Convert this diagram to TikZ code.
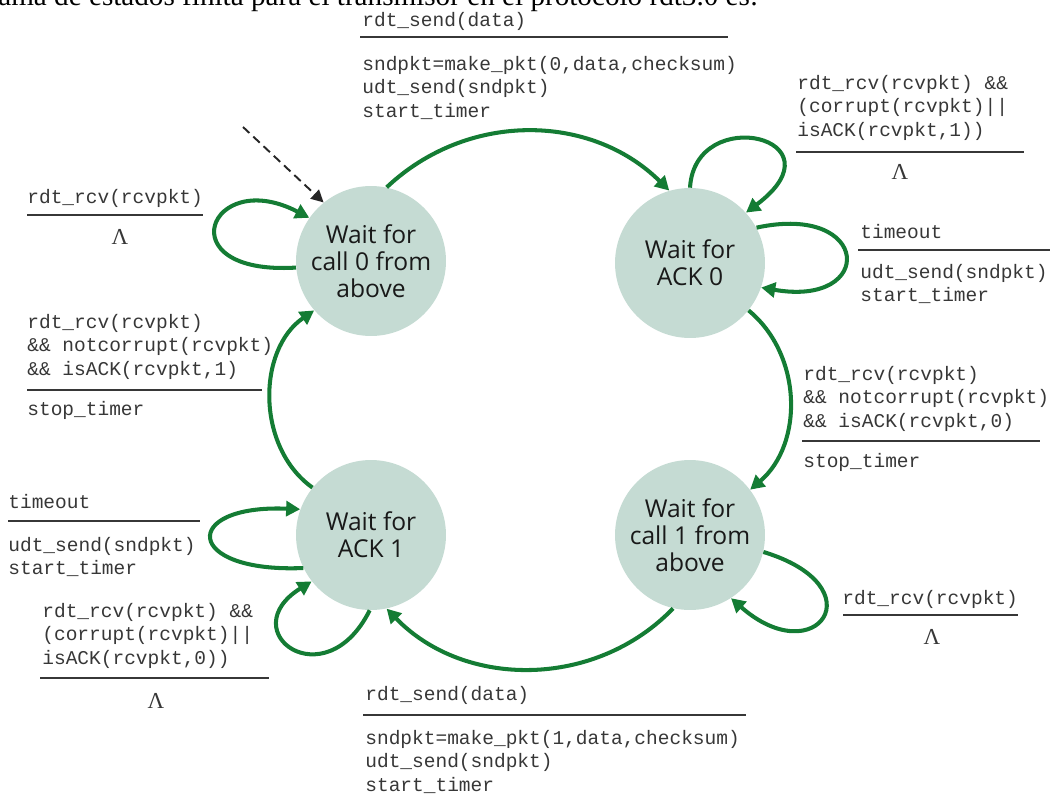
\documentclass[tikz,border=0pt]{standalone}
\usepackage{fontspec}
\setmainfont{Liberation Serif}
\newfontfamily\monof{Liberation Mono}
\newfontfamily\statef{Open Sans}
\usetikzlibrary{arrows.meta}
\definecolor{fsmgreen}{RGB}{20,124,52}
\definecolor{statefill}{RGB}{197,219,211}
\definecolor{txtgray}{RGB}{55,55,55}
\newcommand\blk[1]{\begin{tabular}[t]{@{}l@{}}#1\end{tabular}}
\begin{document}
\begin{tikzpicture}[x=0.02cm,y=-0.02cm,
 state/.style={circle, fill=statefill, minimum size=3cm, inner sep=0, align=center, font=\statef\fontsize{14}{15.5}\selectfont, text=black!90},
 trans/.style={draw=fsmgreen, line width=2.3pt, -{Triangle[length=8pt,width=8.5pt]}},
 lbl/.style={anchor=base west, inner sep=0, font=\monof\fontsize{11.1}{13.6}\selectfont, text=txtgray},
 lam/.style={inner sep=0, font=\fontsize{13}{15}\selectfont, text=txtgray},
 rulel/.style={draw=txtgray, line width=1.1pt},
 init/.style={draw=black!85, line width=1.1pt, dash pattern=on 5pt off 3pt, -{Triangle[length=7pt,width=7pt]}}]
\useasboundingbox (0,0) rectangle (1050,801);

\node[anchor=base west, inner sep=0, font=\fontsize{16.6}{18}\selectfont] (cap) at (-2,6) {ama de estados finita para el transmisor en el protocolo rdt3.0 es:};

\node[state] (s1) at (371,261) {Wait for\\call 0 from\\above};
\node[state] (s2) at (690,263) {Wait for\\ACK 0};
\node[state] (s3) at (371,535) {Wait for\\ACK 1};
\node[state] (s4) at (690,535) {Wait for\\call 1 from\\above};

% transitions between states
\draw[trans] (s1.78) to[bend left=44] (s2.106);
\draw[trans] (s2.-39) to[bend left=50] (s4.37);
\draw[trans] (s4.-103) to[bend left=46] (s3.-78);
\draw[trans] (s3.141) to[bend left=55] (s1.221);

% self loops
\draw[trans] (s1.185) .. controls +(-130,8) and +(-100,-52) .. (s1.145);
\draw[trans] (s2.90) .. controls +(5,-85) and +(100,-75) .. (s2.42);
\draw[trans] (s2.28) .. controls +(115,-25) and +(115,20) .. (s2.-19);
\draw[trans] (s4.-13) .. controls +(115,35) and +(85,75) .. (s4.-57);
\draw[trans] (s3.206) .. controls +(-120,5) and +(-120,-5) .. (s3.160);
\draw[trans] (s3.-91) .. controls +(-45,90) and +(-80,50) .. (s3.-142);

% initial arrow
\coordinate (initp) at (243,127);
\draw[init] (initp) -- (s1.129);

% labels: s1 -> s2
\node[lbl] (t12c) at (362,27) {rdt\_send(data)};
\draw[rulel] (360,37) -- (728,37);
\node[lbl] (t12a) at (362,70) {\blk{sndpkt=make\_pkt(0,data,checksum)\\udt\_send(sndpkt)\\start\_timer}};

% s2 top loop
\node[lbl] (l2tc) at (797,89) {\blk{rdt\_rcv(rcvpkt) \&\&\\(corrupt(rcvpkt)||\\isACK(rcvpkt,1))}};
\draw[rulel] (796,152) -- (1024,152);
\node[lam] (l2ta) at (900,172) {Λ};

% s2 right loop
\node[lbl] (l2rc) at (860,238) {timeout};
\draw[rulel] (858,250) -- (1050,250);
\node[lbl] (l2ra) at (860,278) {\blk{udt\_send(sndpkt)\\start\_timer}};

% s2 -> s4
\node[lbl] (t24c) at (803,380) {\blk{rdt\_rcv(rcvpkt)\\\&\& notcorrupt(rcvpkt)\\\&\& isACK(rcvpkt,0)}};
\draw[rulel] (802,441) -- (1040,441);
\node[lbl] (t24a) at (803,467) {stop\_timer};

% s4 loop
\node[lbl] (l4c) at (842,604) {rdt\_rcv(rcvpkt)};
\draw[rulel] (843,615) -- (1018,615);
\node[lam] (l4a) at (932,637) {Λ};

% s4 -> s3
\node[lbl] (t43c) at (365,700) {rdt\_send(data)};
\draw[rulel] (363,715) -- (746,715);
\node[lbl] (t43a) at (365,744) {\blk{sndpkt=make\_pkt(1,data,checksum)\\udt\_send(sndpkt)\\start\_timer}};

% s3 bottom loop
\node[lbl] (l3bc) at (42,617) {\blk{rdt\_rcv(rcvpkt) \&\&\\(corrupt(rcvpkt)||\\isACK(rcvpkt,0))}};
\draw[rulel] (40,678) -- (269,678);
\node[lam] (l3ba) at (156,701) {Λ};

% s3 left loop
\node[lbl] (l3lc) at (8,508) {timeout};
\draw[rulel] (8,521) -- (200,521);
\node[lbl] (l3la) at (8,551) {\blk{udt\_send(sndpkt)\\start\_timer}};

% s3 -> s1
\node[lbl] (t31c) at (27,328) {\blk{rdt\_rcv(rcvpkt)\\\&\& notcorrupt(rcvpkt)\\\&\& isACK(rcvpkt,1)}};
\draw[rulel] (27,390) -- (262,390);
\node[lbl] (t31a) at (27,415) {stop\_timer};

% s1 loop
\node[lbl] (l1c) at (27,203) {rdt\_rcv(rcvpkt)};
\draw[rulel] (27,215) -- (203,215);
\node[lam] (l1a) at (120,237) {Λ};
\end{tikzpicture}
\end{document}
